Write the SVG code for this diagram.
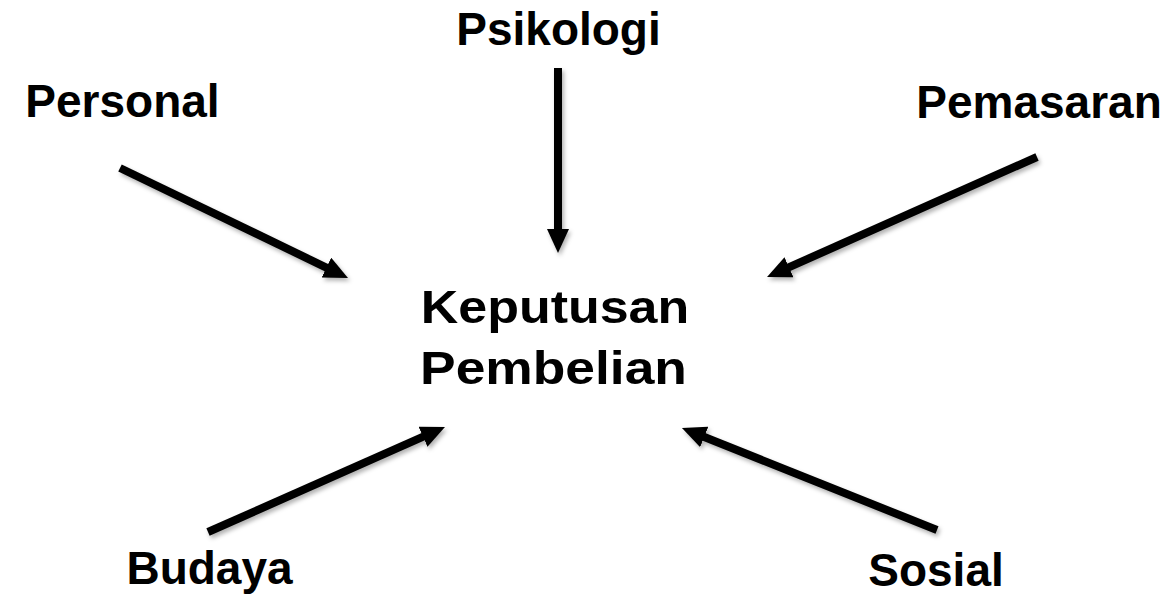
<svg xmlns="http://www.w3.org/2000/svg" width="1171" height="598" viewBox="0 0 1171 598">
<style>
.lbl{font-family:"Liberation Sans",Arial,sans-serif;font-weight:bold;font-size:46px;fill:#000;text-anchor:middle}
.arr{stroke:#000;stroke-width:8;fill:none;marker-end:url(#head);filter:url(#sh)}
</style>
<defs>
<marker id="head" viewBox="0 0 24 22" refX="12" refY="11" markerWidth="24" markerHeight="22" markerUnits="userSpaceOnUse" orient="auto">
<path d="M0,0 L24,11 L0,22 z" fill="#000"/>
</marker>
<filter id="sh" filterUnits="userSpaceOnUse" x="0" y="0" width="1171" height="598">
<feDropShadow dx="2" dy="3" stdDeviation="2" flood-color="#000" flood-opacity="0.3"/>
</filter>
</defs>
<rect width="1171" height="598" fill="#fff"/>
<g id="connectors">
<line class="arr" x1="120" y1="168" x2="337.2" y2="272.8"/>
<line class="arr" x1="558" y1="68" x2="558" y2="241"/>
<line class="arr" x1="1037" y1="157" x2="778" y2="272.1"/>
<line class="arr" x1="208" y1="532" x2="434" y2="431.9"/>
<line class="arr" x1="937" y1="530" x2="693.1" y2="432.5"/>
</g>
<g id="psikologi"><text class="lbl" x="558.5" y="45">Psikologi</text></g>
<g id="personal"><text class="lbl" x="122.5" y="117">Personal</text></g>
<g id="pemasaran"><text class="lbl" x="1039" y="118">Pemasaran</text></g>
<g id="keputusan"><text class="lbl" transform="translate(555,323) scale(1.13,1)">Keputusan</text><text class="lbl" transform="translate(553.5,384) scale(1.16,1)">Pembelian</text></g>
<g id="budaya"><text class="lbl" x="209.5" y="584">Budaya</text></g>
<g id="sosial"><text class="lbl" x="936" y="586">Sosial</text></g>
</svg>
